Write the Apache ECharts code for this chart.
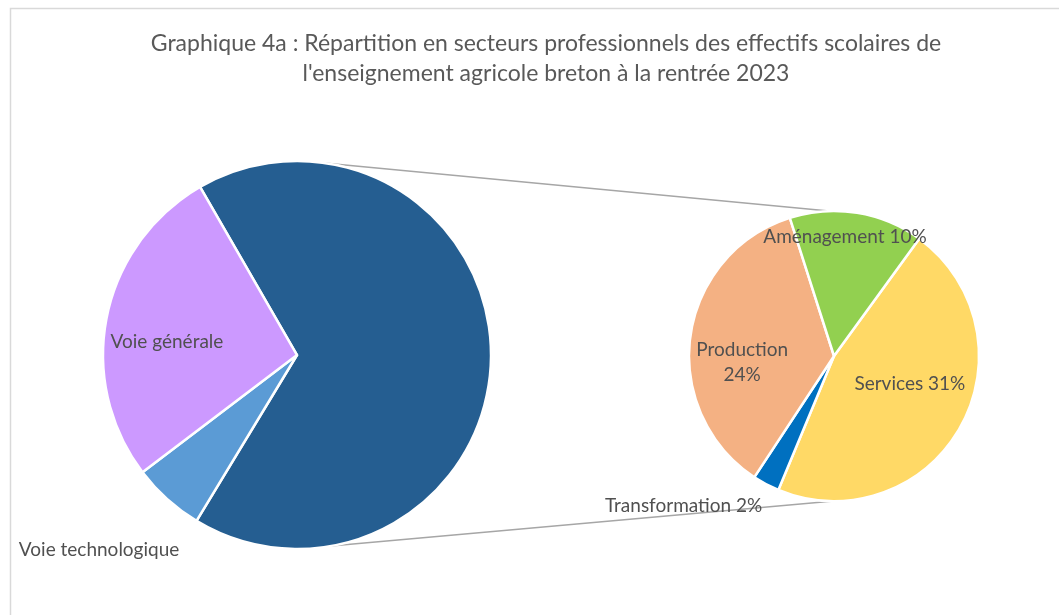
<!DOCTYPE html>
<html lang="fr">
<head>
<meta charset="UTF-8">
<title>Graphique 4a</title>
<script src="https://cdn.jsdelivr.net/npm/echarts@6/dist/echarts.min.js"></script>
<style>
  html, body { margin: 0; padding: 0; background: #fff; }
  #chart { width: 1059px; height: 615px; }
</style>
</head>
<body>
<div id="chart"></div>
<script>
// données : premier camembert (voies) et second (secteurs de la voie pro)
var mainNames = ['Voie professionnelle', 'Voie technologique', 'Voie générale'];
var mainValues = [67, 6, 27];
var subNames = ['Services', 'Transformation', 'Production', 'Aménagement'];
var subValues = [31, 2, 24, 10];

var mainColors = ['#255e91', '#5b9bd5', '#cc99ff'];
var subColors = ['#ffd966', '#0070c0', '#f4b183', '#92d050'];

// placement
var C1 = [297, 355], R1 = 194;
var C2 = [834, 356], R2 = 145;
var FONT = 'Lato';

// decalages des etiquettes
var mainLabel = {
  'Voie professionnelle': { show: false },
  'Voie technologique': { offset: [-131, 121] },
  'Voie générale': { offset: [-32, 7] }
};
var subLabel = {
  'Services': { offset: [10, -9] },
  'Transformation': { offset: [-115, 83] },
  'Production': { offset: [-17, 17] },
  'Aménagement': { offset: [-1, -45] }
};

function pt(c, r, deg) {
  // deg : sens horaire depuis midi
  var a = deg * Math.PI / 180;
  return [c[0] + r * Math.sin(a), c[1] - r * Math.cos(a)];
}

var top1 = pt(C1, R1, 8), top2 = pt(C2, R2, -2);
var bot1 = pt(C1, R1, 170), bot2 = pt(C2, R2, 180);

var chart = echarts.init(document.getElementById('chart'));
chart.setOption({
  backgroundColor: '#fff',
  animation: false,
  title: {
    text: 'Graphique 4a : Répartition en secteurs professionnels des effectifs scolaires de\nl\'enseignement agricole breton à la rentrée 2023',
    left: 541,
    top: 24,
    textAlign: 'center',
    textStyle: {
      fontFamily: FONT,
      fontSize: 23,
      fontWeight: 'normal',
      color: '#595959',
      lineHeight: 30
    }
  },
  graphic: [
    {
      type: 'rect',
      shape: { x: 10.5, y: 8.5, width: 1100, height: 700 },
      style: { fill: 'none', stroke: '#d9d9d9', lineWidth: 1.5 },
      silent: true
    },
    {
      type: 'line',
      shape: { x1: top1[0], y1: top1[1], x2: top2[0], y2: top2[1] },
      style: { stroke: '#a6a6a6', lineWidth: 1.5 },
      z: -1
    },
    {
      type: 'line',
      shape: { x1: bot1[0], y1: bot1[1], x2: bot2[0], y2: bot2[1] },
      style: { stroke: '#a6a6a6', lineWidth: 1.5 },
      z: -1
    }
  ],
  series: [
    {
      type: 'pie',
      center: C1,
      radius: [0, R1],
      startAngle: 120,
      clockwise: true,
      silent: true,
      itemStyle: { borderColor: '#fff', borderWidth: 2.5 },
      label: {
        position: 'inside',
        formatter: '{b}',
        fontFamily: FONT,
        fontSize: 19,
        color: '#505050'
      },
      labelLine: { show: false },
      data: mainNames.map(function(n, i) {
        return {
          name: n,
          value: mainValues[i],
          itemStyle: { color: mainColors[i] },
          label: mainLabel[n]
        };
      })
    },
    {
      type: 'pie',
      center: C2,
      radius: [0, R2],
      startAngle: 54,
      clockwise: true,
      silent: true,
      itemStyle: { borderColor: '#fff', borderWidth: 2.5 },
      label: {
        position: 'inside',
        fontFamily: FONT,
        fontSize: 19,
        color: '#505050',
        lineHeight: 25,
        formatter: function(p) {
          return p.name + (p.name === 'Production' ? '\n' : ' ') + p.value + '%';
        }
      },
      labelLine: { show: false },
      data: subNames.map(function(n, i) {
        return {
          name: n,
          value: subValues[i],
          itemStyle: { color: subColors[i] },
          label: subLabel[n]
        };
      })
    }
  ]
});
</script>
</body>
</html>
